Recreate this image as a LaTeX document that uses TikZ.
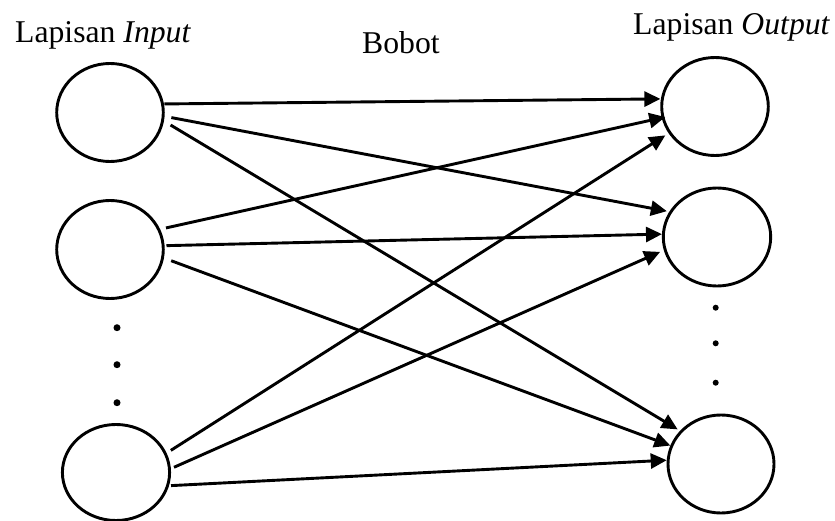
\documentclass[tikz,border=0pt]{standalone}
\usepackage{fontspec}
\setmainfont{Liberation Serif}
\usetikzlibrary{arrows.meta,shapes.geometric}
\begin{document}
\begin{tikzpicture}[x=1pt,y=-1pt,
  neuron/.style={ellipse,draw,line width=2.9pt,minimum width=106.6pt,minimum height=98pt,inner sep=0pt},
  weight/.style={line width=2.9pt,-{Triangle[length=16pt,width=15pt]}},
  layerlabel/.style={anchor=base west,inner sep=0pt,font=\fontsize{31.7}{38}\selectfont},
  ellipsisdot/.style={circle,fill,inner sep=0pt,minimum size=7pt}]
\useasboundingbox (0,0) rectangle (835,521);

% layer titles
\node[layerlabel] (tin)  at (15,42.3) {Lapisan \textit{Input}};
\node[layerlabel] (tw)   at (362,53.3) {Bobot};
\node[layerlabel] (tout) at (633,35) {Lapisan \textit{Output}};

% input neurons
\node[neuron] (in1) at (110,112.5) {};
\node[neuron] (in2) at (110,249.5) {};
\node[neuron,minimum width=107.2pt,minimum height=96pt] (in3) at (116,472.5) {};

% output neurons
\node[neuron] (out1) at (715,106.5) {};
\node[neuron,minimum width=107.4pt] (out2) at (717,237) {};
\node[neuron,minimum width=106pt] (out3) at (721,464) {};

% vertical ellipses
\node[ellipsisdot] (li1) at (117,327.7) {};
\node[ellipsisdot] (li2) at (117,364.7) {};
\node[ellipsisdot] (li3) at (117,402.7) {};
\node[ellipsisdot,minimum size=6pt] (lo1) at (715.7,307.7) {};
\node[ellipsisdot,minimum size=6pt] (lo2) at (715.7,343.3) {};
\node[ellipsisdot,minimum size=6pt] (lo3) at (715.7,382.7) {};

% weighted connections
\draw[weight,shorten <=0.5pt,shorten >=0.5pt]  (in1.9.1)   -- (out1.172);
\draw[weight,shorten <=6.9pt,shorten >=2.5pt]  (in1.-4.3)  -- (out2.152.7);
\draw[weight,shorten <=7.7pt,shorten >=2.7pt]  (in1.-9.9)  -- (out3.141);
\draw[weight,shorten <=6pt,shorten >=-3.7pt]   (in2.22.9)  -- (out1.192.6);
\draw[weight,shorten <=1.9pt]                  (in2.4.7)   -- (out2.177.9);
\draw[weight,shorten <=7.7pt]                  (in2.-9.9)  -- (out3.160.7);
\draw[weight,shorten <=5pt,shorten >=3.9pt]    (in3.21.1)  -- (out1.210.5);
\draw[weight,shorten <=3.4pt,shorten >=4pt]    (in3.4.2)   -- (out2.194.9);
\draw[weight,shorten <=2pt]                    (in3.-14.9) -- (out3.176.7);
\end{tikzpicture}
\end{document}
